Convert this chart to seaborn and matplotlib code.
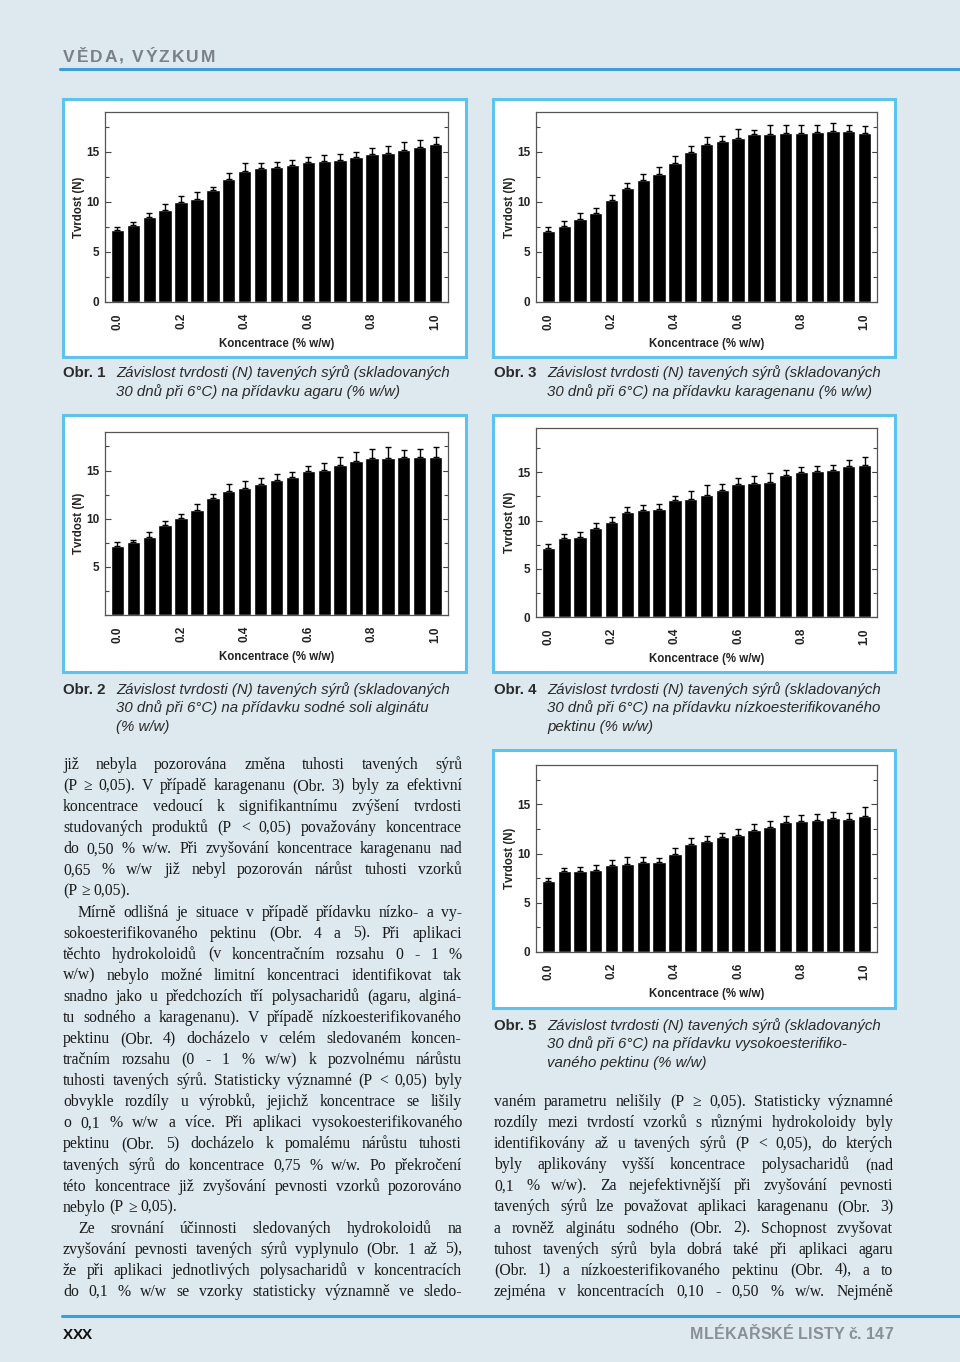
import numpy as np
import pandas as pd
import seaborn as sns
import matplotlib.pyplot as plt
from matplotlib.patches import Rectangle
from matplotlib.lines import Line2D
from matplotlib.ticker import MultipleLocator

sns.set_theme(style='ticks')
plt.rcParams['font.family'] = ['Liberation Sans', 'DejaVu Sans']

# Koncentrace hydrokoloidu (% w/w)
konc = [0.00, 0.05, 0.10, 0.15, 0.20, 0.25, 0.30, 0.35, 0.40, 0.45, 0.50,
        0.55, 0.60, 0.65, 0.70, 0.75, 0.80, 0.85, 0.90, 0.95, 1.00]
konc_ticks = [0.0, 0.2, 0.4, 0.6, 0.8, 1.0]

# Tvrdost (N) a smerodatne odchylky
agar = [7.2, 7.7, 8.5, 9.25, 10.0, 10.35, 11.25, 12.3, 13.1, 13.4, 13.5,
        13.75, 14.05, 14.15, 14.25, 14.55, 14.8, 14.95, 15.25, 15.5, 15.8]
agar_sd = [0.35, 0.35, 0.45, 0.55, 0.6, 0.7, 0.3, 0.6, 0.8, 0.55, 0.55,
           0.45, 0.45, 0.55, 0.6, 0.45, 0.65, 0.7, 0.8, 0.75, 0.7]

karagenan = [7.15, 7.6, 8.35, 8.9, 10.25, 11.4, 12.25, 12.8, 13.9, 15.05, 15.85,
             16.15, 16.45, 16.85, 16.85, 16.95, 16.95, 17.05, 17.15, 17.15, 16.95]
karagenan_sd = [0.35, 0.5, 0.55, 0.5, 0.45, 0.5, 0.55, 0.75, 0.75, 0.55, 0.65,
                0.5, 0.85, 0.4, 0.85, 0.8, 0.75, 0.65, 0.8, 0.6, 0.7]

alginat = [7.15, 7.55, 8.15, 9.3, 10.05, 10.85, 12.1, 12.85, 13.2, 13.65, 14.0,
           14.35, 14.9, 15.1, 15.55, 15.95, 16.25, 16.35, 16.4, 16.4, 16.4]
alginat_sd = [0.4, 0.25, 0.5, 0.5, 0.45, 0.65, 0.5, 0.8, 0.75, 0.55, 0.65,
              0.45, 0.6, 0.65, 0.9, 1.0, 1.0, 1.05, 0.75, 0.85, 1.0]

pektin_nizko = [7.2, 8.2, 8.3, 9.2, 9.9, 10.85, 11.1, 11.15, 12.1, 12.25, 12.7,
                13.15, 13.8, 13.9, 14.05, 14.7, 15.0, 15.1, 15.25, 15.65, 15.8]
pektin_nizko_sd = [0.35, 0.4, 0.5, 0.5, 0.5, 0.55, 0.55, 0.6, 0.4, 0.8, 0.95,
                   0.6, 0.6, 0.7, 0.85, 0.5, 0.6, 0.55, 0.5, 0.6, 0.75]

pektin_vysoko = [7.2, 8.2, 8.2, 8.3, 8.8, 8.95, 9.15, 9.15, 10.0, 10.95, 11.3,
                 11.65, 11.9, 12.4, 12.65, 13.25, 13.35, 13.4, 13.65, 13.55, 13.8]
pektin_vysoko_sd = [0.35, 0.35, 0.45, 0.5, 0.5, 0.7, 0.5, 0.4, 0.55, 0.6, 0.5,
                    0.45, 0.55, 0.6, 0.65, 0.6, 0.55, 0.65, 0.55, 0.55, 0.95]

caption_common = "Závislost tvrdosti (N) tavených sýrů (skladovaných"

left_lines = [
    "již nebyla pozorována změna tuhosti tavených sýrů",
    "(P ≥ 0,05). V případě karagenanu (Obr. 3) byly za efektivní",
    "koncentrace vedoucí k signifikantnímu zvýšení tvrdosti",
    "studovaných produktů (P < 0,05) považovány koncentrace",
    "do 0,50 % w/w. Při zvyšování koncentrace karagenanu nad",
    "0,65 % w/w již nebyl pozorován nárůst tuhosti vzorků",
    "(P ≥ 0,05).",
    "Mírně odlišná je situace v případě přídavku nízko- a vy-",
    "sokoesterifikovaného pektinu (Obr. 4 a 5). Při aplikaci",
    "těchto hydrokoloidů (v koncentračním rozsahu 0 - 1 %",
    "w/w) nebylo možné limitní koncentraci identifikovat tak",
    "snadno jako u předchozích tří polysacharidů (agaru, alginá-",
    "tu sodného a karagenanu). V případě nízkoesterifikovaného",
    "pektinu (Obr. 4) docházelo v celém sledovaném koncen-",
    "tračním rozsahu (0 - 1 % w/w) k pozvolnému nárůstu",
    "tuhosti tavených sýrů. Statisticky významné (P < 0,05) byly",
    "obvykle rozdíly u výrobků, jejichž koncentrace se lišily",
    "o 0,1 % w/w a více. Při aplikaci vysokoesterifikovaného",
    "pektinu (Obr. 5) docházelo k pomalému nárůstu tuhosti",
    "tavených sýrů do koncentrace 0,75 % w/w. Po překročení",
    "této koncentrace již zvyšování pevnosti vzorků pozorováno",
    "nebylo (P ≥ 0,05).",
    "Ze srovnání účinnosti sledovaných hydrokoloidů na",
    "zvyšování pevnosti tavených sýrů vyplynulo (Obr. 1 až 5),",
    "že při aplikaci jednotlivých polysacharidů v koncentracích",
    "do 0,1 % w/w se vzorky statisticky významně ve sledo-",
]
left_last = {6, 21}
left_indent = {7, 22}

right_lines = [
    "vaném parametru nelišily (P ≥ 0,05). Statisticky významné",
    "rozdíly mezi tvrdostí vzorků s různými hydrokoloidy byly",
    "identifikovány až u tavených sýrů (P < 0,05), do kterých",
    "byly aplikovány vyšší koncentrace polysacharidů (nad",
    "0,1 % w/w). Za nejefektivnější při zvyšování pevnosti",
    "tavených sýrů lze považovat aplikaci karagenanu (Obr. 3)",
    "a rovněž alginátu sodného (Obr. 2). Schopnost zvyšovat",
    "tuhost tavených sýrů byla dobrá také při aplikaci agaru",
    "(Obr. 1) a nízkoesterifikovaného pektinu (Obr. 4), a to",
    "zejména v koncentracích 0,10 - 0,50 % w/w. Nejméně",
]

W, H = 960, 1362
BG = '#dde8ef'
BLUE = '#3a9fd6'
BOX = '#5cc4ea'

fig = plt.figure(figsize=(W / 100, H / 100), dpi=100)
fig.patch.set_facecolor(BG)
renderer = fig.canvas.get_renderer()


def fx(x):
    return x / W


def fy(y):
    return 1 - y / H


def width_px(s, **kw):
    t = fig.text(0, 0, s, **kw)
    w = t.get_window_extent(renderer).width
    t.remove()
    return w


def tracked(s, x0, y, target, right=False, **kw):
    """Draw letter-spaced text fitted to a target width."""
    sp = width_px('A A', **kw) - width_px('AA', **kw)
    widths = [sp if ch == ' ' else width_px(ch, **kw) for ch in s]
    track = (target - sum(widths)) / (len(s) - 1)
    x = x0 - target if right else x0
    for ch, w in zip(s, widths):
        if ch != ' ':
            fig.text(fx(x), fy(y), ch, va='baseline', ha='left', **kw)
        x += w + track


def justified(line, x0, x1, y, last=False, **kw):
    words = line.split(' ')
    widths = [width_px(w, **kw) for w in words]
    sp = width_px('a a', **kw) - width_px('aa', **kw)
    if last or len(words) == 1:
        gap = sp
    else:
        gap = max((x1 - x0 - sum(widths)) / (len(words) - 1), 0.6 * sp)
    x = x0
    for w, wd in zip(words, widths):
        fig.text(fx(x), fy(y), w, va='baseline', ha='left', **kw)
        x += wd + gap


def hline(x0, x1, y, color, lw):
    fig.add_artist(Line2D([fx(x0), fx(x1)], [fy(y), fy(y)], transform=fig.transFigure,
                          color=color, lw=lw))


def bar_chart(box, axpos, values, sd, ytop, zero_label=True):
    bx0, by0, bx1, by1 = box
    fig.add_artist(Rectangle((fx(bx0), fy(by1)), (bx1 - bx0) / W, (by1 - by0) / H,
                             transform=fig.transFigure, facecolor='white',
                             edgecolor=BOX, lw=2.2, zorder=0))
    l, t, r, b = axpos
    ax = fig.add_axes([fx(l), fy(b), (r - l) / W, (b - t) / H])
    df = pd.DataFrame({'konc': [f"{k:.2f}" for k in konc], 'tvrdost': values})
    sns.barplot(data=df, x='konc', y='tvrdost', color='black', saturation=1,
                width=0.84, errorbar=None, ax=ax)
    centers = [p.get_x() + p.get_width() / 2 for p in ax.patches]
    ax.errorbar(centers, values, yerr=[np.zeros(len(sd)), sd], fmt='none',
                ecolor='black', elinewidth=1.0, capsize=2.2, capthick=1.0)
    ax.set_xlim(-0.78, len(konc) - 0.22)
    ax.set_ylim(0, ytop)
    idx = [i for i, k in enumerate(konc) if any(abs(k - kt) < 1e-9 for kt in konc_ticks)]
    ax.set_xticks(idx)
    ax.set_xticklabels([f"{konc[i]:.1f}" for i in idx], rotation=90,
                       fontsize=8.5, fontweight='bold', color='#222222')
    ax.set_yticks([0, 5, 10, 15])
    ax.set_yticklabels(['0' if zero_label else '', '5', '10', '15'],
                       fontsize=8.5, fontweight='bold', color='#222222')
    ax.yaxis.set_minor_locator(MultipleLocator(2.5))
    ax.tick_params(axis='y', which='both', direction='in', right=True, left=True,
                   color='#444444', width=0.8, pad=4)
    ax.tick_params(axis='y', which='major', length=4)
    ax.tick_params(axis='y', which='minor', length=3)
    ax.tick_params(axis='x', direction='in', length=2, pad=8, color='#444444')
    for s in ax.spines.values():
        s.set_visible(True)
        s.set_color('#555555')
        s.set_linewidth(0.9)
    ax.set_facecolor('white')
    ax.set_xlabel('Koncentrace (% w/w)', fontsize=8.3, fontweight='bold',
                  color='#222222', va='center')
    ax.xaxis.set_label_coords(0.5, -42 / (b - t))
    ax.set_ylabel('Tvrdost (N)', fontsize=8.3, fontweight='bold',
                  color='#222222', va='center')
    ax.yaxis.set_label_coords(-26 / (r - l), 0.5)
    return ax


def caption(num, lines, x0, ys):
    fig.text(fx(x0), fy(ys[0] + 5), f"Obr. {num}", fontsize=10.8, fontweight='bold',
             color='#2a2a2a', va='baseline')
    for line, y in zip(lines, ys):
        fig.text(fx(x0 + 53), fy(y + 5), line, fontsize=10.8, style='italic',
                 color='#2a2a2a', va='baseline')


# header
tracked("VĚDA, VÝZKUM", 63, 62, 152, fontsize=12.5, fontweight='bold', color='#7b8088')
hline(60, 960, 68.5, BLUE, 2.2)

# charts
bar_chart((63, 99, 466, 357), (105, 112, 448, 302), agar, agar_sd, 19)
bar_chart((493, 99, 895, 357), (536, 112, 877, 302), karagenan, karagenan_sd, 19)
bar_chart((63, 415, 466, 672), (105, 432, 448, 615), alginat, alginat_sd, 19,
          zero_label=False)
bar_chart((493, 415, 895, 672), (536, 428, 877, 617), pektin_nizko, pektin_nizko_sd, 19.6)
bar_chart((493, 750, 895, 1008), (536, 765, 877, 952), pektin_vysoko, pektin_vysoko_sd, 19)

# captions
caption(1, [caption_common, "30 dnů při 6°C) na přídavku agaru (% w/w)"], 63, [372, 391])
caption(3, [caption_common, "30 dnů při 6°C) na přídavku karagenanu (% w/w)"], 494, [372, 391])
caption(2, [caption_common, "30 dnů při 6°C) na přídavku sodné soli alginátu", "(% w/w)"],
        63, [689, 707, 726])
caption(4, [caption_common, "30 dnů při 6°C) na přídavku nízkoesterifikovaného",
            "pektinu (% w/w)"], 494, [689, 707, 726])
caption(5, [caption_common, "30 dnů při 6°C) na přídavku vysokoesterifiko-",
            "vaného pektinu (% w/w)"], 494, [1025, 1043, 1062])

# body text
body = dict(fontsize=11.3, family=['Liberation Serif', 'DejaVu Serif'], color='#1a1a1a')
y = 764
for i, line in enumerate(left_lines):
    x0 = 63 + (15 if i in left_indent else 0)
    justified(line, x0, 462, y + 5, last=(i in left_last), **body)
    y += 21.08
y = 1101
for line in right_lines:
    justified(line, 494, 893, y + 5, **body)
    y += 21.1

# footer
hline(62, 960, 1316, BLUE, 2.2)
tracked("XXX", 63, 1339, 29, fontsize=11, fontweight='bold', color='#111111')
tracked("MLÉKAŘSKÉ LISTY č. 147", 893, 1339, 203, right=True, fontsize=11.5,
        fontweight='bold', color='#8a8f96')

fig.savefig('out.png', dpi=100, facecolor=BG)
